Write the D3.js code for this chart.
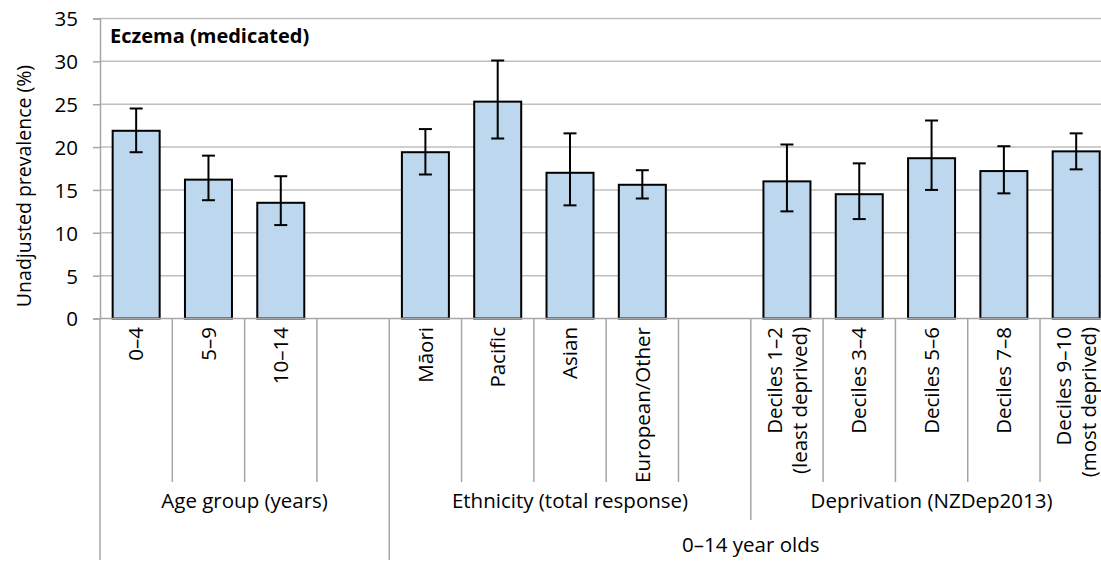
<!DOCTYPE html>
<html>
<head>
<meta charset="utf-8">
<script src="https://cdn.jsdelivr.net/npm/d3@7"></script>
<style>
  html, body { margin: 0; padding: 0; background: #fff; }
  svg { display: block; font-family: "Open Sans", "Noto Sans", sans-serif; }
</style>
</head>
<body>
<svg id="chart" width="1101" height="563"></svg>
<script>
// Category slots (blank slots separate the groups)
const categories = [
  ["0–4"], ["5–9"], ["10–14"], [],
  ["Māori"], ["Pacific"], ["Asian"], ["European/Other"], [],
  ["Deciles 1–2", "(least deprived)"], ["Deciles 3–4"], ["Deciles 5–6"], ["Deciles 7–8"], ["Deciles 9–10", "(most deprived)"]
];
// Prevalence (%) with 95% confidence limits; null for blank slots
const values = [21.9, 16.2, 13.5, null, 19.4, 25.3, 17.0, 15.6, null, 16.0, 14.5, 18.7, 17.2, 19.5];
const lower  = [19.4, 13.8, 10.9, null, 16.8, 21.0, 13.2, 14.0, null, 12.5, 11.6, 15.0, 14.6, 17.4];
const upper  = [24.5, 19.0, 16.6, null, 22.1, 30.1, 21.6, 17.3, null, 20.3, 18.1, 23.1, 20.1, 21.6];

// Second-level groups: [label, first slot, slot count]
const groups = [["Age group (years)", 0, 4], ["Ethnicity (total response)", 4, 5], ["Deprivation (NZDep2013)", 9, 5]];
// Third-level groups
const outerGroups = [["", 0, 4], ["0–14 year olds", 4, 10]];

const yTicks = [0, 5, 10, 15, 20, 25, 30, 35];
const title = "Eczema (medicated)";
const yTitle = "Unadjusted prevalence (%)";

const svg = d3.select("#chart");
const plotLeft = 100, plotTop = 18.5, plotBottom = 318.5;
const step = 72.31;
const plotRight = plotLeft + step * categories.length;
const fs = 20.5;

const x = d3.scaleBand().domain(d3.range(categories.length)).range([plotLeft, plotRight]).paddingInner(0.35).paddingOuter(0.175);
const y = d3.scaleLinear().domain([0, 35]).range([plotBottom, plotTop]);
const slotEdge = i => plotLeft + i * step;

const gridColor = "#BFBFBF", axisColor = "#A6A6A6";

// Gridlines
svg.append("g").selectAll("line").data(yTicks.filter(d => d > 0)).join("line")
  .attr("x1", plotLeft).attr("x2", plotRight)
  .attr("y1", d => y(d)).attr("y2", d => y(d))
  .attr("stroke", gridColor).attr("stroke-width", 1.5);

// Y axis
const yAxis = svg.append("g").attr("transform", `translate(${plotLeft},0)`)
  .call(d3.axisLeft(y).tickValues(yTicks).tickSize(7).tickPadding(15));
yAxis.select(".domain").attr("stroke", axisColor).attr("stroke-width", 1.5);
yAxis.selectAll(".tick line").attr("stroke", axisColor).attr("stroke-width", 1.5);
yAxis.selectAll(".tick text").attr("font-size", fs).attr("fill", "#000")
  .attr("font-family", "'Open Sans', 'Noto Sans', sans-serif").attr("dy", "0.36em");

// Bars
const idx = d3.range(categories.length).filter(i => values[i] != null);
svg.append("g").selectAll("rect").data(idx).join("rect")
  .attr("x", i => x(i)).attr("width", x.bandwidth())
  .attr("y", i => y(values[i])).attr("height", i => y(0) - y(values[i]))
  .attr("fill", "#BDD7EE").attr("stroke", "#000").attr("stroke-width", 2);

// Error bars
const eb = svg.append("g").attr("stroke", "#000").attr("stroke-width", 2);
const cap = 6.5;
idx.forEach(i => {
  const cx = x(i) + x.bandwidth() / 2;
  eb.append("line").attr("x1", cx).attr("x2", cx).attr("y1", y(upper[i])).attr("y2", y(lower[i]));
  eb.append("line").attr("x1", cx - cap).attr("x2", cx + cap).attr("y1", y(upper[i])).attr("y2", y(upper[i]));
  eb.append("line").attr("x1", cx - cap).attr("x2", cx + cap).attr("y1", y(lower[i])).attr("y2", y(lower[i]));
});

// X axis baseline
svg.append("line").attr("x1", plotLeft).attr("x2", plotRight).attr("y1", plotBottom).attr("y2", plotBottom)
  .attr("stroke", axisColor).attr("stroke-width", 1.5);

// Multi-level category dividers
const lvl1 = 482, lvl2 = 520, lvl3 = 560;
const dividers = svg.append("g").attr("stroke", axisColor).attr("stroke-width", 1.5);
d3.range(categories.length + 1).forEach(i => {
  let end = lvl1;
  if (groups.some(g => g[1] === i || g[1] + g[2] === i)) end = lvl2;
  if (outerGroups.some(g => g[1] === i || g[1] + g[2] === i)) end = lvl3;
  dividers.append("line").attr("x1", slotEdge(i)).attr("x2", slotEdge(i)).attr("y1", plotBottom).attr("y2", end);
});

// Category labels (rotated)
const catG = svg.append("g").attr("font-size", fs).attr("fill", "#000");
categories.forEach((lines, i) => {
  const cx = slotEdge(i) + step / 2;
  const n = lines.length;
  lines.forEach((t, k) => {
    const off = (k - (n - 1) / 2) * 25;
    catG.append("text")
      .attr("transform", `translate(${cx + off},327) rotate(-90)`)
      .attr("text-anchor", "end").attr("dy", "0.35em").text(t);
  });
});

// Group labels
svg.append("g").attr("font-size", fs).selectAll("text").data(groups).join("text")
  .attr("x", g => slotEdge(g[1]) + g[2] * step / 2).attr("y", 501).attr("dy", "0.35em")
  .attr("text-anchor", "middle").text(g => g[0]);
svg.append("g").attr("font-size", fs).selectAll("text").data(outerGroups).join("text")
  .attr("x", g => slotEdge(g[1]) + g[2] * step / 2).attr("y", 545).attr("dy", "0.35em")
  .attr("text-anchor", "middle").text(g => g[0]);

// Title
svg.append("text").attr("x", 110).attr("y", 43).attr("font-size", 20).attr("font-weight", "bold").text(title);

// Y axis title
svg.append("text").attr("transform", "translate(24,186) rotate(-90)")
  .attr("text-anchor", "middle").attr("dy", "0.35em").attr("font-size", 19.5).text(yTitle);
</script>
</body>
</html>
